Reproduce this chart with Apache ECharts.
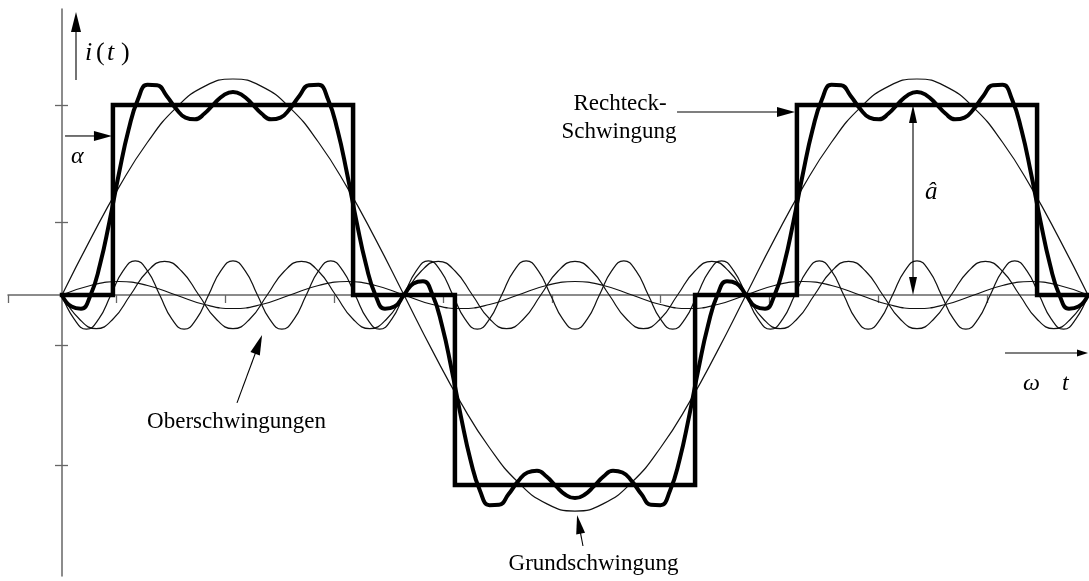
<!DOCTYPE html>
<html>
<head>
<meta charset="utf-8">
<script src="https://cdn.jsdelivr.net/npm/echarts@6/dist/echarts.min.js"></script>
<style>html,body{margin:0;padding:0;background:#fff}#c{width:1089px;height:581px}</style>
</head>
<body>
<div id="c"></div>
<script>
// ---------------- data (angle in degrees of ωt, value relative to square-wave height) ----------------
const squareAngles = [0, 26.8, 26.8, 153.2, 153.2, 206.8, 206.8, 333.2, 333.2, 386.8, 386.8, 513.2, 513.2, 540];
const squareValues = [0, 0, 1, 1, 0, 0, -1, -1, 0, 0, 1, 1, 0, 0];

const angles15 = [0,15,30,45,60,75,90,105,120,135,150,165,180,195,210,225,240,255,270,285,300,315,330,345,360,375,390,405,420,435,450,465,480,495,510,525,540];
const fundValues = [0,0.294,0.568,0.804,0.985,1.098,1.137,1.098,0.985,0.804,0.568,0.294,0,
  -0.294,-0.568,-0.804,-0.985,-1.098,-1.137,-1.098,-0.985,-0.804,-0.568,-0.294,0,
  0.294,0.568,0.804,0.985,1.098,1.137,1.098,0.985,0.804,0.568,0.294,0];
const h3Values = [0,0.05,0.071,0.05,0,-0.05,-0.071,-0.05, 0,0.05,0.071,0.05,0,-0.05,-0.071,-0.05,
  0,0.05,0.071,0.05,0,-0.05,-0.071,-0.05, 0,0.05,0.071,0.05,0,-0.05,-0.071,-0.05, 0,0.05,0.071,0.05,0];

const h5Angles = [0,9,18,27,36,45,54,63,72,81,90,99,108,117,126,135,144,153,162,171,180,189,198,207,216,225,234,243,252,261,270,279,288,297,306,315,324,333,342,351,360,369,378,387,396,405,414,423,432,441,450,459,468,477,486,495,504,513,522,531,540];
const h5Values = [0,-0.125,-0.177,-0.125,0,0.125,0.177,0.125, 0,-0.125,-0.177,-0.125,0,0.125,0.177,0.125,
  0,-0.125,-0.177,-0.125,0,0.125,0.177,0.125, 0,-0.125,-0.177,-0.125,0,0.125,0.177,0.125,
  0,-0.125,-0.177,-0.125,0,0.125,0.177,0.125, 0,-0.125,-0.177,-0.125,0,0.125,0.177,0.125,
  0,-0.125,-0.177,-0.125,0,0.125,0.177,0.125, 0,-0.125,-0.177,-0.125,0];

const h7Angles = [0,6.43,12.86,19.29,25.71,32.14,38.57,45,51.43,57.86,64.29,70.71,77.14,83.57,90,96.43,102.86,109.29,115.71,122.14,128.57,135,141.43,147.86,154.29,160.71,167.14,173.57,180,186.43,192.86,199.29,205.71,212.14,218.57,225,231.43,237.86,244.29,250.71,257.14,263.57,270,276.43,282.86,289.29,295.71,302.14,308.57,315,321.43,327.86,334.29,340.71,347.14,353.57,360,366.43,372.86,379.29,385.71,392.14,398.57,405,411.43,417.86,424.29,430.71,437.14,443.57,450,456.43,462.86,469.29,475.71,482.14,488.57,495,501.43,507.86,514.29,520.71,527.14,533.57,540];
const h7Values = [0,-0.127,-0.18,-0.127,0,0.127,0.18,0.127, 0,-0.127,-0.18,-0.127,0,0.127,0.18,0.127,
  0,-0.127,-0.18,-0.127,0,0.127,0.18,0.127, 0,-0.127,-0.18,-0.127,0,0.127,0.18,0.127,
  0,-0.127,-0.18,-0.127,0,0.127,0.18,0.127, 0,-0.127,-0.18,-0.127,0,0.127,0.18,0.127,
  0,-0.127,-0.18,-0.127,0,0.127,0.18,0.127, 0,-0.127,-0.18,-0.127,0,0.127,0.18,0.127,
  0,-0.127,-0.18,-0.127,0,0.127,0.18,0.127, 0,-0.127,-0.18,-0.127,0,0.127,0.18,0.127,
  0,-0.127,-0.18,-0.127,0];

const sumAngles = [0,5,10,15,20,25,30,35,40,45,50,55,60,65,70,75,80,85,90,
  95,100,105,110,115,120,125,130,135,140,145,150,155,160,165,170,175,180,
  185,190,195,200,205,210,215,220,225,230,235,240,245,250,255,260,265,270,
  275,280,285,290,295,300,305,310,315,320,325,330,335,340,345,350,355,360,
  365,370,375,380,385,390,395,400,405,410,415,420,425,430,435,440,445,450,
  455,460,465,470,475,480,485,490,495,500,505,510,515,520,525,530,535,540];
const sumValues = [0,-0.061,-0.072,-0.001,0.160,0.388,0.641,0.868,1.030,1.106,1.104,1.049,0.981,0.934,0.925,0.955,1.006,1.051,1.069,
  1.051,1.006,0.955,0.925,0.934,0.981,1.049,1.104,1.106,1.030,0.868,0.641,0.388,0.160,-0.001,-0.072,-0.061,0,
  0.061,0.072,0.001,-0.160,-0.388,-0.641,-0.868,-1.030,-1.106,-1.104,-1.049,-0.981,-0.934,-0.925,-0.955,-1.006,-1.051,-1.069,
  -1.051,-1.006,-0.955,-0.925,-0.934,-0.981,-1.049,-1.104,-1.106,-1.030,-0.868,-0.641,-0.388,-0.160,0.001,0.072,0.061,0,
  -0.061,-0.072,-0.001,0.160,0.388,0.641,0.868,1.030,1.106,1.104,1.049,0.981,0.934,0.925,0.955,1.006,1.051,1.069,
  1.051,1.006,0.955,0.925,0.934,0.981,1.049,1.104,1.106,1.030,0.868,0.641,0.388,0.160,-0.001,-0.072,-0.061,0];

// tick positions (no labels in the original)
const xTickValues = [-28.42, 28.65, 85.94, 143.24, 200.54, 257.83, 315.13, 372.42, 429.72, 487.01];
const yTickValues = [1.0, 0.384, -0.263, -0.895];

// ---------------- chart ----------------
const X_MIN = -28.42, X_MAX = 540.53, Y_MIN = -1.4789, Y_MAX = 1.5053;
function pairs(a, v) { return a.map((x, i) => [x, v[i]]); }

const axisGray = '#666';
const chart = echarts.init(document.getElementById('c'), null, {renderer: 'canvas'});

const thin = {color: '#111', width: 1.2};
function curve(name, a, v, style, smooth) {
  return {
    name, type: 'line', data: pairs(a, v), showSymbol: false, symbol: 'none',
    smooth: smooth, silent: true, lineStyle: style, animation: false,
    xAxisIndex: 0, yAxisIndex: 0, clip: false
  };
}

chart.setOption({
  backgroundColor: '#fff',
  animation: false,
  grid: {left: 8, right: 0, top: 9, bottom: 5, containLabel: false},
  xAxis: [
    {type: 'value', min: X_MIN, max: X_MAX, position: 'bottom',
     axisLine: {show: true, onZero: true, lineStyle: {color: axisGray, width: 1.5}},
     axisTick: {show: true, length: 8, customValues: xTickValues, lineStyle: {color: axisGray, width: 1.3}},
     axisLabel: {show: false}, splitLine: {show: false}},
    {type: 'value', min: X_MIN, max: X_MAX, position: 'top',
     axisLine: {show: false, onZero: true}, axisTick: {show: false},
     axisLabel: {show: false}, splitLine: {show: false}}
  ],
  yAxis: [
    {type: 'value', min: Y_MIN, max: Y_MAX, position: 'left',
     axisLine: {show: true, onZero: true, lineStyle: {color: axisGray, width: 1.5}},
     axisTick: {show: true, length: 7, customValues: yTickValues, lineStyle: {color: axisGray, width: 1.3}},
     axisLabel: {show: false}, splitLine: {show: false}},
    {type: 'value', min: Y_MIN, max: Y_MAX, position: 'right',
     axisLine: {show: false, onZero: true},
     axisTick: {show: true, length: 6, customValues: yTickValues, lineStyle: {color: axisGray, width: 1.3}},
     axisLabel: {show: false}, splitLine: {show: false}}
  ],
  series: [
    curve('Grundschwingung', angles15, fundValues, thin, 0.5),
    curve('3. Oberschwingung', angles15, h3Values, thin, 0.5),
    curve('5. Oberschwingung', h5Angles, h5Values, thin, 0.5),
    curve('7. Oberschwingung', h7Angles, h7Values, thin, 0.5),
    curve('Rechteck-Schwingung', squareAngles, squareValues, {color: '#000', width: 4.5, join: 'miter', cap: 'square'}, false),
    curve('Summe', sumAngles, sumValues, {color: '#000', width: 4, join: 'round'}, 0.5)
  ]
});

// ---------------- annotations ----------------
const arrows = [
  {from: [7.37, 1.132], to: [7.37, 1.489], head: [20, 10]},
  {from: [1.6, 0.837], to: [26.3, 0.837], head: [18, 10]},
  {from: [323.7, 0.963], to: [385.8, 0.963], head: [18, 10]},
  {from: [447.9, 0.5], to: [447.9, 1.0], head: [18, 8]},
  {from: [447.9, 0.5], to: [447.9, 0.0], head: [18, 8]},
  {from: [92.1, -0.568], to: [105.3, -0.211], head: [20, 10]},
  {from: [274.2, -1.321], to: [271.1, -1.158], head: [19, 9]},
  {from: [496.3, -0.305], to: [540, -0.305], head: [11, 7]}
];
const serif = '"Liberation Serif","DejaVu Serif","Times New Roman",serif';
const texts = [
  {t: 'i', x: 85, y: 53, f: 'italic 26px ' + serif, a: 'left'},
  {t: '(', x: 96, y: 53, f: '26px ' + serif, a: 'left'},
  {t: 't', x: 107, y: 53, f: 'italic 26px ' + serif, a: 'left'},
  {t: ')', x: 121, y: 53, f: '26px ' + serif, a: 'left'},
  {t: 'α', x: 71, y: 157, f: 'italic 24px ' + serif, a: 'left'},
  {t: 'Rechteck-', x: 620, y: 104, f: '23px ' + serif, a: 'center'},
  {t: 'Schwingung', x: 619, y: 132, f: '23px ' + serif, a: 'center'},
  {t: 'â', x: 925, y: 192, f: 'italic 25px ' + serif, a: 'left'},
  {t: 'Oberschwingungen', x: 236.5, y: 422, f: '23px ' + serif, a: 'center'},
  {t: 'Grundschwingung', x: 593.5, y: 564, f: '23px ' + serif, a: 'center'},
  {t: 'ω', x: 1023, y: 384, f: 'italic 24px ' + serif, a: 'left'},
  {t: 't', x: 1062, y: 384, f: 'italic 24px ' + serif, a: 'left'}
];

const finder = {xAxisIndex: 0, yAxisIndex: 0};
const g = [];
arrows.forEach(ar => {
  const p0 = chart.convertToPixel(finder, ar.from);
  const p1 = chart.convertToPixel(finder, ar.to);
  const dx = p1[0] - p0[0], dy = p1[1] - p0[1];
  const len = Math.hypot(dx, dy) || 1;
  const ux = dx / len, uy = dy / len, nx = -uy, ny = ux;
  const L = ar.head[0], W = ar.head[1] / 2;
  const bx = p1[0] - ux * L, by = p1[1] - uy * L;
  g.push({type: 'line', silent: true, z: 100,
    shape: {x1: p0[0], y1: p0[1], x2: bx + ux * 2, y2: by + uy * 2},
    style: {stroke: '#000', lineWidth: 1.1}});
  g.push({type: 'polygon', silent: true, z: 100,
    shape: {points: [[p1[0], p1[1]], [bx + nx * W, by + ny * W], [bx - nx * W, by - ny * W]]},
    style: {fill: '#000'}});
});
texts.forEach(tx => {
  g.push({type: 'text', silent: true, z: 100, x: tx.x, y: tx.y,
    style: {text: tx.t, font: tx.f, fill: '#000', align: tx.a, verticalAlign: 'middle'}});
});
chart.setOption({graphic: g});
</script>
</body>
</html>
